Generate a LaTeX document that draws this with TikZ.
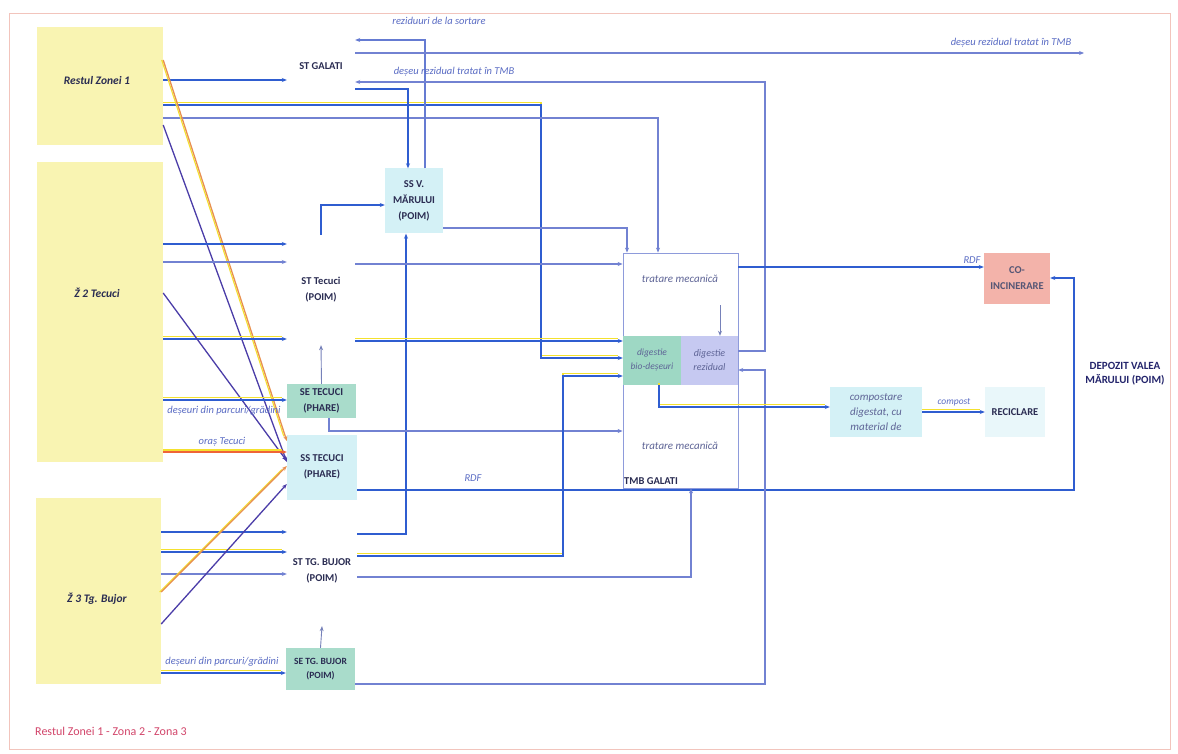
\documentclass[tikz,border=0pt]{standalone}
\usepackage{fontspec}
\setmainfont{Carlito}
\usetikzlibrary{arrows.meta}
\definecolor{zy}{HTML}{F9F4B2}
\definecolor{cy}{HTML}{D4F1F6}
\definecolor{gr}{HTML}{A9DCCB}
\definecolor{dgc}{HTML}{9ED8C4}
\definecolor{lv}{HTML}{C6C9F1}
\definecolor{pk}{HTML}{F3B3AA}
\definecolor{rc}{HTML}{E9F7FA}
\definecolor{db}{HTML}{2F5DD0}
\definecolor{lb}{HTML}{7282D2}
\definecolor{pu}{HTML}{4B3DA8}
\definecolor{og}{HTML}{E8904E}
\definecolor{ye}{HTML}{F4E12E}
\definecolor{tx}{HTML}{2A2C52}
\definecolor{itc}{HTML}{5E6496}
\definecolor{lbl}{HTML}{5A6CC4}
\definecolor{frm}{HTML}{F2C4BC}
\definecolor{foot}{HTML}{D2456A}
\newcommand\ybline[1]{\draw[yl] #1; \draw[bm] #1;}
\begin{document}
\begin{tikzpicture}[x=1pt,y=-1pt,
 zone/.style={fill=zy,inner sep=0},
 zt/.style={font=\bfseries\itshape\fontsize{11.5}{14}\selectfont,text=tx},
 st/.style={font=\bfseries\fontsize{10.5}{16}\selectfont,text=tx,align=center,inner sep=0},
 itx/.style={font=\itshape\fontsize{11}{15}\selectfont,text=itc,align=center,inner sep=0},
 lab/.style={font=\itshape\fontsize{10.5}{12}\selectfont,text=lbl,inner sep=0},
 tip/.style={-{Stealth[length=5pt,width=4pt]}},
 bl/.style={draw=db,line width=1.7pt,tip},
 bm/.style={draw=db,line width=1.4pt,tip},
 lt/.style={draw=lb,line width=1.1pt,tip},
 yl/.style={draw=ye,line width=1.5pt,transform canvas={yshift=2.5pt},shorten >=5pt},
 pl/.style={draw=pu,line width=1.3pt,tip},
 ol/.style={draw=og,line width=1.3pt,tip},
 oy/.style={draw=ye,line width=1.1pt,transform canvas={xshift=-1.5pt},shorten >=5pt},
 oyh/.style={draw=ye,line width=1.4pt,transform canvas={yshift=2pt},shorten >=5pt},
]
\useasboundingbox (0,0) rectangle (1178,754);
\fill[white] (0,0) rectangle (1178,754);
\draw[frm,line width=0.8pt] (9,13) rectangle (1170,749);

% zones
\node[zone,minimum width=126,minimum height=118] (z1) at (100,86) {};
\node[zone,minimum width=126,minimum height=300] (z2) at (100,312) {};
\node[zone,minimum width=125,minimum height=186] (z3) at (98.5,591) {};
\node[zt] (z1t) at (97,81) {Restul Zonei 1};
\node[zt] (z2t) at (97,293) {Ž 2 Tecuci};
\node[zt] (z3t) at (97,599) {Ž 3 Tg. Bujor};

% stations
\node[st,minimum width=68] (stgal) at (321,66) {ST GALATI};
\node[st,fill=cy,minimum width=58,minimum height=65] (ssvm) at (414,201) {SS V.\\MĂRULUI\\(POIM)};
\node[st,minimum width=68,minimum height=110] (stt) at (321,290) {ST Tecuci\\(POIM)};
\node[st,fill=gr,minimum width=69,minimum height=34] (set) at (321.5,401) {SE TECUCI\\(PHARE)};
\node[st,fill=cy,minimum width=70,minimum height=65] (sst) at (322,467) {SS TECUCI\\(PHARE)};
\node[st,minimum width=70,minimum height=110] (stb) at (322,571) {ST TG. BUJOR\\(POIM)};
\node[st,fill=gr,minimum width=69,minimum height=42,font=\bfseries\fontsize{9.5}{14}\selectfont] (sebj) at (320.5,669) {SE TG. BUJOR\\(POIM)};

% TMB
\node[draw=lb!80,line width=0.8pt,minimum width=115,minimum height=235,inner sep=0] (tmb) at (680.5,370.5) {};
\node[itx,fill=dgc,minimum width=58,minimum height=49,font=\itshape\fontsize{9.5}{14}\selectfont] (dbio) at (652,360.5) {digestie\\bio-deșeuri};
\node[itx,fill=lv,minimum width=57,minimum height=49,font=\itshape\fontsize{10}{14}\selectfont] (dres) at (709.5,360.5) {digestie\\rezidual};
\node[itx] (tm1) at (680,279) {tratare mecanică};
\node[itx] (tm2) at (680,446) {tratare mecanică};
\node[st,anchor=west] (tmbt) at (624,481) {TMB GALATI};

% right side
\node[itx,fill=cy,minimum width=92,minimum height=50] (comp) at (876,412) {compostare\\digestat, cu\\material de};
\node[st,fill=rc,minimum width=60,minimum height=50] (recic) at (1015,412) {RECICLARE};
\node[st,fill=pk,minimum width=66,minimum height=51,text=tx!80] (coinc) at (1017,278.5) {CO-\\INCINERARE};
\node[st,text=tx!85!blue,font=\bfseries\fontsize{11}{14}\selectfont] (dep) at (1125,374) {DEPOZIT VALEA\\MĂRULUI (POIM)};
\coordinate (tmbout) at (1084,53);

% zone 1 connectors
\draw[bl] (z1.east |- 0,80) -- (stgal.west |- 0,80);
\ybline{(z1.east |- 0,105) -| (541,358) -- (dbio.west |- 0,358)}
\draw[lt] (z1.east |- 0,118) -| (tmb.north -| 658,0);
\draw[oy] (z1.east |- 0,60) -- (sst.west |- 0,441);
\draw[ol] (z1.east |- 0,60) -- (sst.west |- 0,441);
\draw[pl] (z1.east |- 0,125) -- (sst.west |- 0,462);

% zone 2 connectors
\draw[bl] (z2.east |- 0,244) -- (stt.west |- 0,244);
\draw[lt] (z2.east |- 0,262) -- (stt.west |- 0,262);
\ybline{(z2.east |- 0,339) -- (stt.west |- 0,339)}
\draw[pl] (z2.east |- 0,293) -- (sst.west |- 0,461);
\ybline{(z2.east |- 0,400) -- (set.west |- 0,400)}
\node[lab] (l1) at (224,411) {deșeuri din parcuri/grădini};
\draw[oyh] (z2.east |- 0,452) -- (sst.west |- 0,452);
\draw[draw=og!70!red,line width=1.3pt,tip] (z2.east |- 0,452) -- (sst.west |- 0,452);
\node[lab] (l2) at (222,442) {oraș Tecuci};

% zone 3 connectors
\draw[bl] (z3.east |- 0,532) -- (stb.west |- 0,532);
\ybline{(z3.east |- 0,552) -- (stb.west |- 0,552)}
\draw[lt] (z3.east |- 0,574) -- (stb.west |- 0,574);
\draw[oy] (z3.east |- 0,592) -- (sst.west |- 0,466);
\draw[ol] (z3.east |- 0,592) -- (sst.west |- 0,466);
\draw[pl] (z3.east |- 0,624) -- (sst.west |- 0,484);
\ybline{(z3.east |- 0,673) -- (sebj.west |- 0,673)}
\node[lab] (l3) at (222,662) {deșeuri din parcuri/grădini};

% ST GALATI connectors
\draw[draw=lb!80!db,line width=1.3pt,tip] ([xshift=11pt]ssvm.north) |- (stgal.east |- 0,40);
\node[lab] (l4) at (439,21) {reziduuri de la sortare};
\draw[lt] (stgal.east |- 0,53) -- (tmbout);
\node[lab] (l5) at (1011,43) {deșeu rezidual tratat în TMB};
\draw[lt] (dres.east |- 0,351) -| (765,82) -- (stgal.east |- 0,82);
\node[lab] (l6) at (454,72) {deșeu rezidual tratat în TMB};
\draw[bl] (stgal.east |- 0,89) -| ([xshift=-6pt]ssvm.north);

% SS V. Marului
\draw[bl] (stt.north) |- (ssvm.west |- 0,205);
\draw[bl] (stb.east |- 0,534) -| ([xshift=-8pt]ssvm.south);
\draw[lt] (ssvm.east |- 0,228) -| (tmb.north -| 627,0);

% ST Tecuci
\draw[lt] (stt.east |- 0,264) -- (tmb.west |- 0,264);
\ybline{(stt.east |- 0,341) -- (dbio.west |- 0,341)}
\draw[draw=lb!70!gray,line width=0.9pt,tip] (set.north) -- (stt.south);
\draw[lt] (set.south -| 329,0) |- (tmb.west |- 0,431);

% SS Tecuci RDF
\draw[bl] (sst.east |- 0,490) -| (1074,278) -- (coinc.east |- 0,278);
\node[lab] (l7) at (473,478) {RDF};

% ST Tg Bujor
\ybline{(stb.east |- 0,556) -| (563,376) -- (dbio.west |- 0,376)}
\draw[lt] (stb.east |- 0,577) -| (tmb.south -| 691,0);
\draw[draw=lb!70!gray,line width=0.9pt,tip] (sebj.north) -- (stb.south);
\draw[lt] (sebj.east |- 0,684) -| (765,370) -- (dres.east |- 0,370);

% TMB outputs
\draw[bl] (tmb.east |- 0,267) -- (coinc.west |- 0,267);
\node[lab] (l8) at (972,260) {RDF};
\draw[draw=lb!70!gray,line width=0.9pt,tip] (720,305) -- (dres.north -| 720,0);
\ybline{(dbio.south -| 659,0) |- (comp.west |- 0,407)}
\ybline{(comp.east |- 0,412) -- (recic.west |- 0,412)}
\node[lab,font=\itshape\fontsize{9.5}{11}\selectfont] (l9) at (954,402) {compost};

% footer
\node[font=\fontsize{12}{14}\selectfont,text=foot,anchor=west,inner sep=0] (ft) at (35,731) {Restul Zonei 1 - Zona 2 - Zona 3};
\end{tikzpicture}
\end{document}
